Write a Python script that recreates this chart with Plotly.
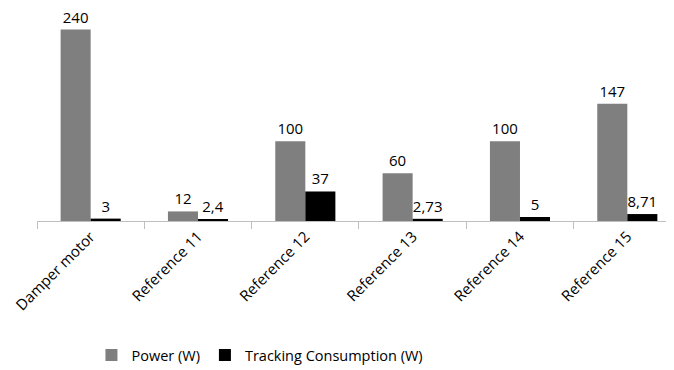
import plotly.graph_objects as go

categories = ["Damper motor", "Reference 11", "Reference 12", "Reference 13", "Reference 14", "Reference 15"]
power = [240, 12, 100, 60, 100, 147]
power_labels = ["240", "12", "100", "60", "100", "147"]
tracking = [3, 2.4, 37, 2.73, 5, 8.71]
tracking_labels = ["3", "2,4", "37", "2,73", "5", "8,71"]

font_family = "Open Sans, Lato, sans-serif"

fig = go.Figure()
fig.add_trace(go.Bar(
    x=categories, y=power, name="Power (W)",
    marker=dict(color="#7f7f7f", line=dict(width=0)),
    text=power_labels, textposition="outside", cliponaxis=False,
    textfont=dict(size=15, color="#000000", family=font_family),
))
fig.add_trace(go.Bar(
    x=categories, y=tracking, name="Tracking Consumption (W)",
    marker=dict(color="#000000", line=dict(width=0)),
    text=tracking_labels, textposition="outside", cliponaxis=False,
    textfont=dict(size=15, color="#000000", family=font_family),
))

# page body has an 8px margin, so figure is sized to fit the 674x370 window
fig.update_layout(
    width=666, height=362,
    margin=dict(l=29, r=0, t=0, b=149, autoexpand=False),
    paper_bgcolor="white", plot_bgcolor="white",
    barmode="group", bargap=0.44, bargroupgap=0,
    font=dict(family=font_family, color="#000000"),
    legend=dict(orientation="h", x=0.35, xanchor="center", y=-0.629, yanchor="middle",
                font=dict(size=14.5, color="#000000"), itemwidth=30,
                traceorder="normal"),
    xaxis=dict(
        type="category", range=[-0.5, 5.435], tickson="boundaries",
        ticks="outside", ticklen=7, tickcolor="#bfbfbf", tickwidth=1,
        showline=True, linecolor="#bfbfbf", linewidth=1,
        tickangle=-45, tickfont=dict(size=15, color="#000000"),
        showgrid=False, automargin=False,
    ),
    yaxis=dict(range=[0, 267], visible=False, showgrid=False, zeroline=False, automargin=False),
)

fig.write_html("out.html")
